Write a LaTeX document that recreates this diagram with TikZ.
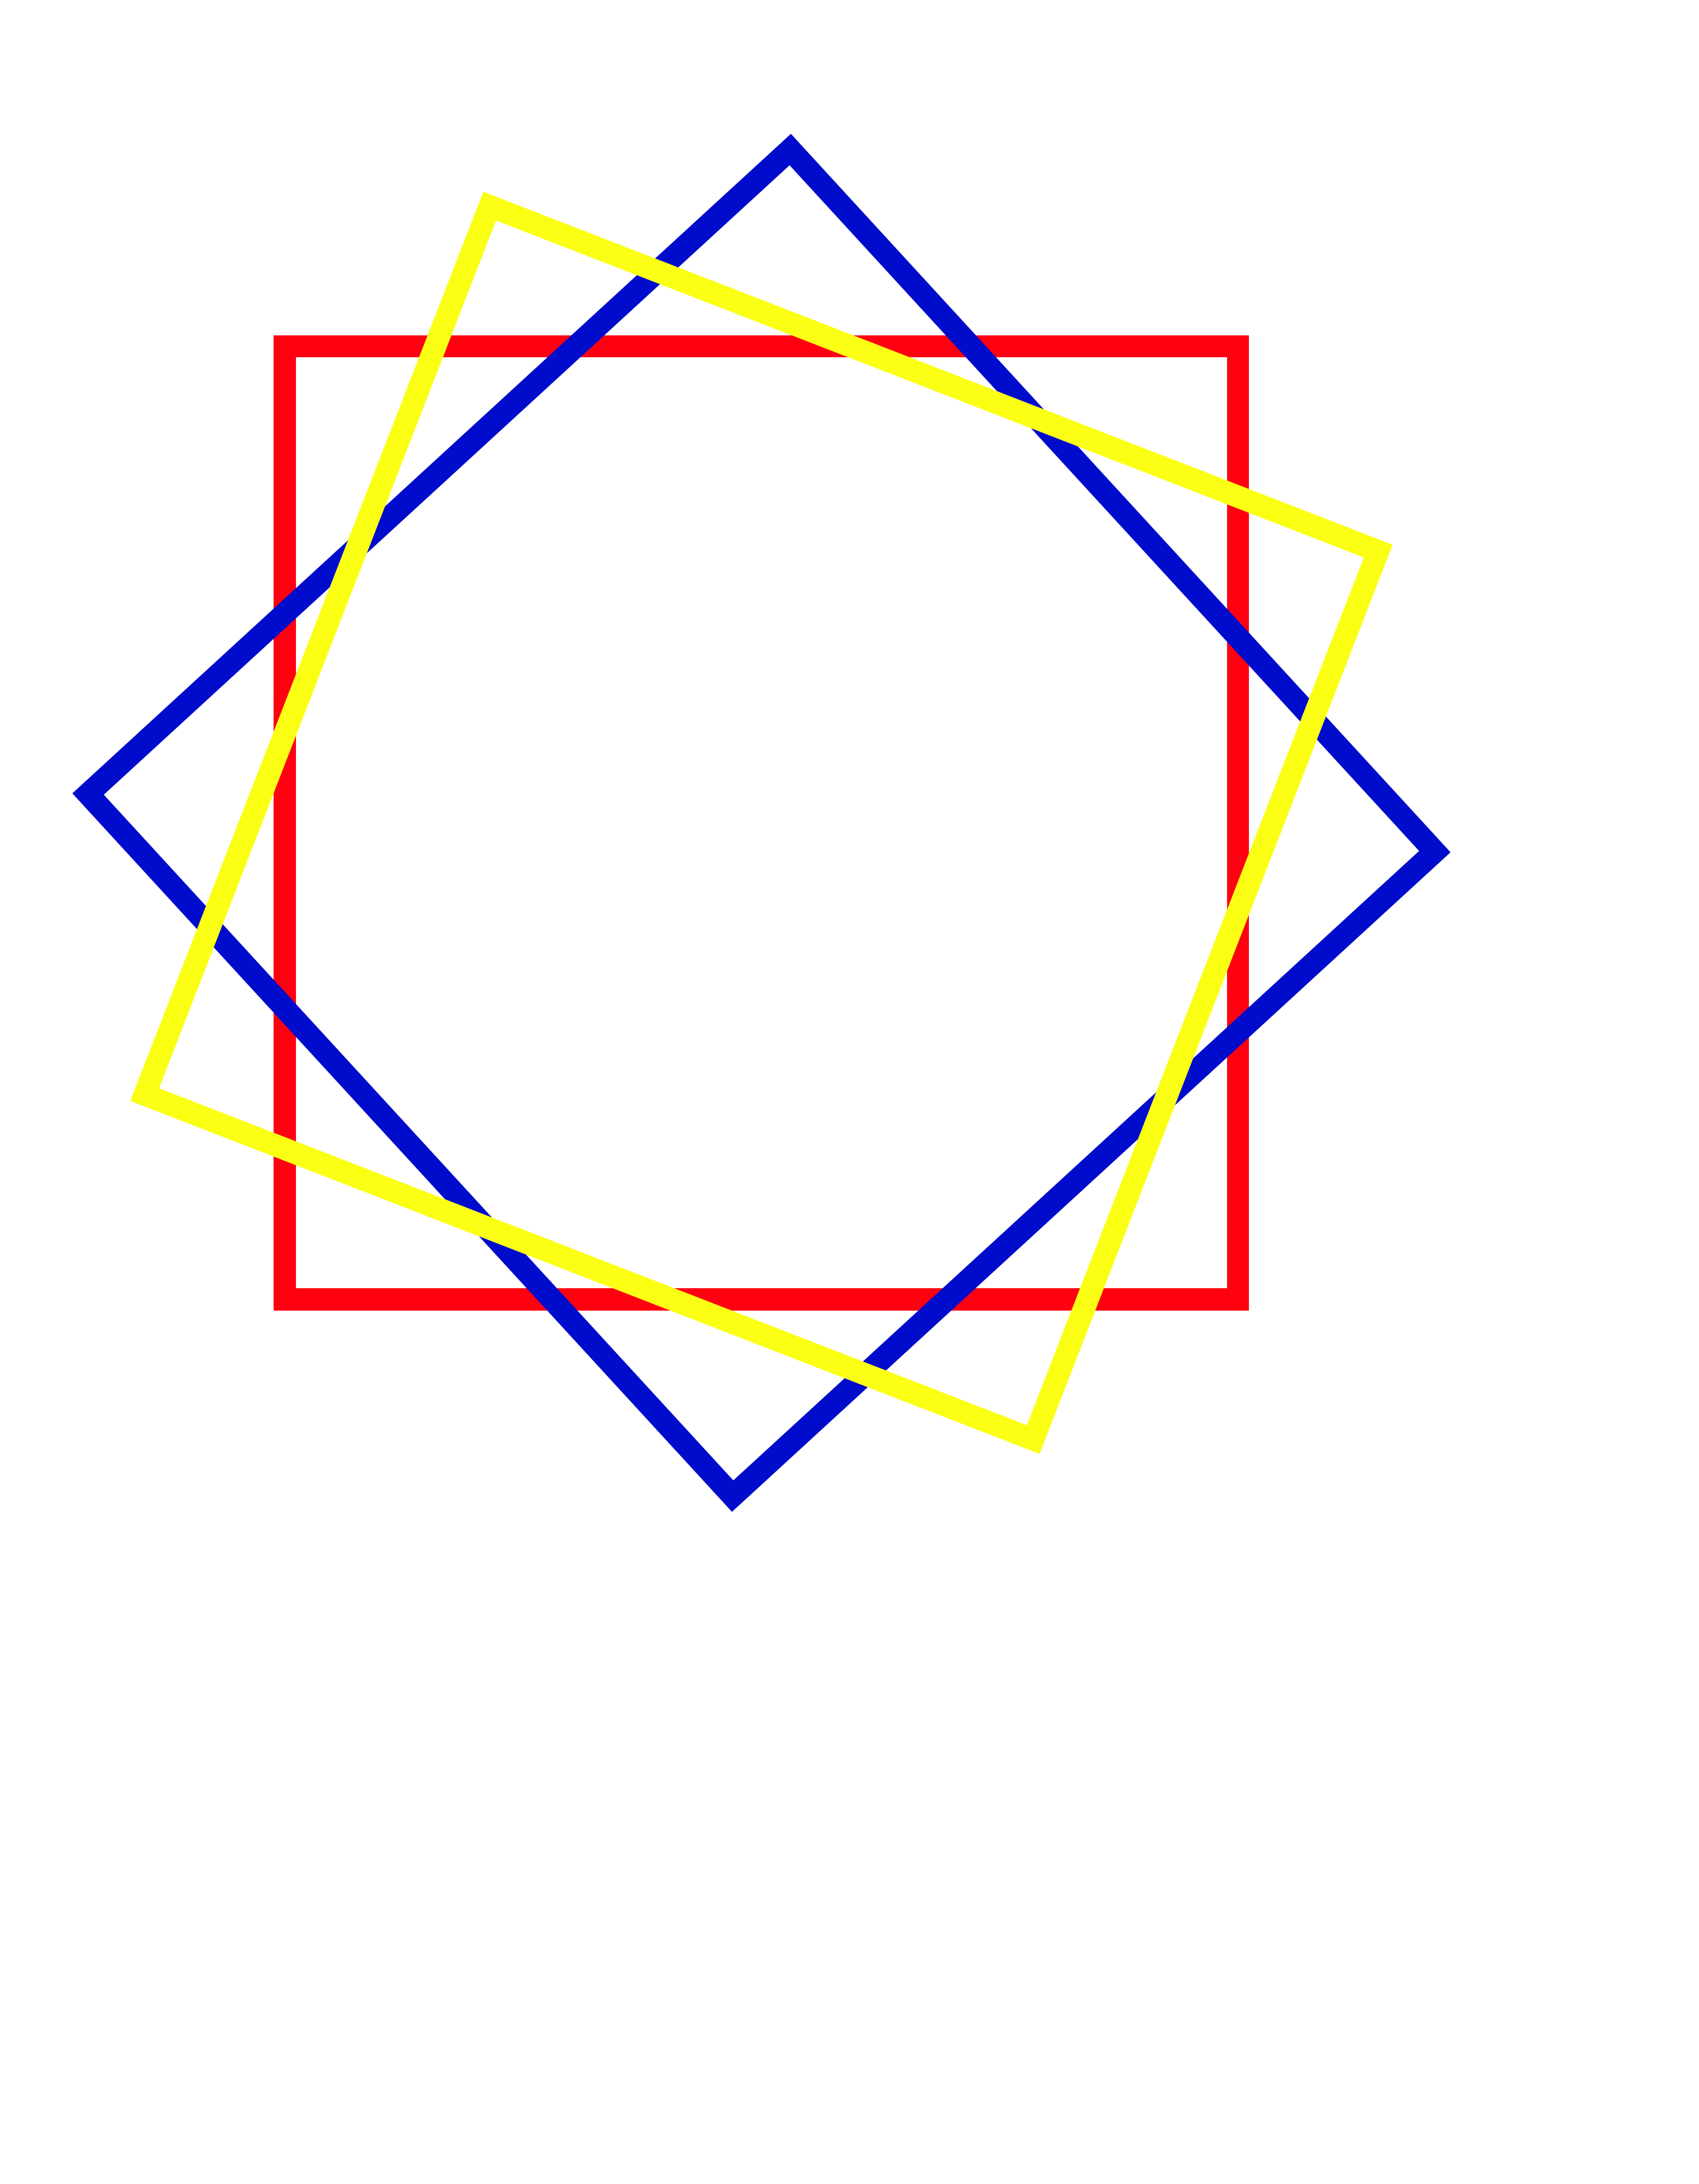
\documentclass[tikz,border=0pt]{standalone}
\usetikzlibrary{calc}
\definecolor{sqred}{RGB}{255,0,16}
\definecolor{sqblue}{RGB}{0,12,204}
\definecolor{sqyellow}{RGB}{250,255,20}
\begin{document}
\begin{tikzpicture}[square/.style={line width=0.54cm, line join=miter}]
\useasboundingbox (0,0) rectangle (41.34,53.15);
% common centre, three copies of one square turned by different angles
\coordinate (centre) at (18.528,33.125);
\def\halfdiag{16.401}
\foreach \ang/\col in {0/sqred, 42.55/sqblue, -21.22/sqyellow}
  \draw[square, draw=\col] ($(centre)+(45+\ang:\halfdiag)$) -- ($(centre)+(135+\ang:\halfdiag)$)
    -- ($(centre)+(225+\ang:\halfdiag)$) -- ($(centre)+(315+\ang:\halfdiag)$) -- cycle;
\end{tikzpicture}
\end{document}
